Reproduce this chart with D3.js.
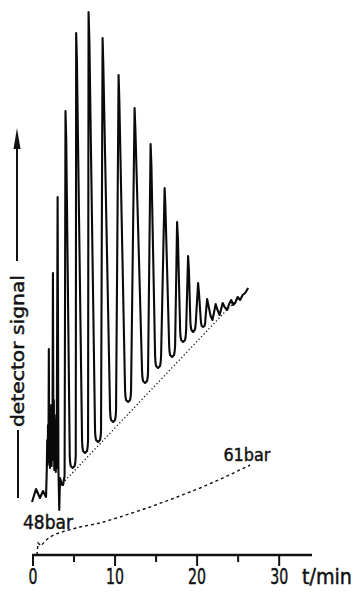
<!DOCTYPE html>
<html>
<head>
<meta charset="utf-8">
<script src="https://cdn.jsdelivr.net/npm/d3@7"></script>
<style>
  html, body { margin: 0; padding: 0; background: #fff; }
  text { font-family: "Liberation Sans Narrow", "DejaVu Sans Condensed", "DejaVu Sans", sans-serif; fill: #111; stroke: #111; stroke-width: 0.45; }
</style>
</head>
<body>
<svg id="canvas"></svg>
<script>
const width = 357;
const height = 593;

// detector trace: [t in min, signal in arbitrary units]
const trace = [
  [-0.12, 53], [0.37, 66], [0.85, 57], [1.22, 64], [1.59, 58],
  [1.68, 85], [1.73, 115], [1.78, 90], [1.83, 130], [1.88, 93],
  [1.93, 206], [1.98, 97], [2.02, 140], [2.07, 87], [2.12, 135],
  [2.17, 100], [2.22, 150], [2.27, 89], [2.32, 130], [2.37, 105],
  [2.43, 282], [2.49, 95], [2.54, 155], [2.59, 85], [2.63, 140],
  [2.68, 93], [2.73, 135], [2.78, 83], [2.83, 125], [2.88, 87],
  [3.00, 358], [3.10, 85], [3.20, 45], [3.29, 77],
  [3.44, 73], [3.55, 70], [3.66, 70], [3.85, 79],
  [3.96, 444], [4.05, 415],
  [4.48, 99], [4.52, 93], [4.60, 89], [4.84, 87], [5.08, 89], [5.16, 93], [5.21, 99],
  [5.26, 522], [5.35, 495],
  [5.98, 114], [6.02, 108], [6.10, 104], [6.34, 102], [6.58, 104], [6.66, 108], [6.71, 114],
  [6.77, 543], [6.87, 515],
  [7.56, 125], [7.60, 119], [7.68, 115], [7.93, 113], [8.17, 115], [8.25, 119], [8.29, 125],
  [8.48, 517], [8.57, 490],
  [9.39, 145], [9.43, 139], [9.51, 135], [9.76, 133], [10.00, 135], [10.08, 139], [10.12, 145],
  [10.43, 480], [10.52, 455],
  [11.22, 165], [11.26, 159], [11.34, 155], [11.59, 153], [11.83, 155], [11.91, 159], [11.95, 165],
  [12.38, 447], [12.48, 425],
  [13.29, 184], [13.33, 178], [13.41, 174], [13.66, 172], [13.90, 174], [13.98, 178], [14.02, 184],
  [14.33, 411], [14.43, 390],
  [14.88, 199], [14.92, 193], [15.00, 189], [15.24, 187], [15.48, 189], [15.56, 193], [15.61, 199],
  [16.04, 367], [16.13, 350],
  [16.59, 210], [16.63, 204], [16.71, 200], [16.95, 198], [17.19, 200], [17.27, 204], [17.32, 210],
  [17.56, 333], [17.66, 317],
  [17.93, 225], [17.97, 219], [18.05, 215], [18.29, 213], [18.53, 215], [18.61, 219], [18.66, 225],
  [18.90, 299], [19.00, 285],
  [19.18, 233], [19.23, 228], [19.31, 225], [19.51, 223], [19.71, 225], [19.79, 228], [19.84, 233],
  [20.12, 272], [20.22, 263],
  [20.43, 237], [20.48, 232], [20.56, 229], [20.73, 228], [20.90, 229], [20.98, 232], [21.04, 239],
  [21.22, 256], [21.34, 251], [21.65, 239], [21.87, 235], [22.07, 243],
  [22.26, 251], [22.44, 246], [22.74, 240], [22.93, 246], [23.11, 252],
  [23.35, 248], [23.66, 245], [23.90, 251], [24.15, 255], [24.39, 250],
  [24.63, 252], [24.94, 258], [25.24, 255], [25.55, 260], [25.85, 262],
  [26.22, 267]
];

// drawn baseline under the peaks
const baseline = [[3.29, 69], [25.0, 257]];

// pressure programme, 48 bar -> 61 bar
const pressure = [
  [0.49, 0], [0.61, 12], [0.98, 9], [1.46, 14], [2.07, 18],
  [2.80, 21], [3.90, 24], [5.73, 28], [8.17, 32], [10.61, 38],
  [14.27, 48], [17.56, 58], [20.37, 67], [23.41, 78], [26.46, 90]
];

const majorTicks = [0, 10, 20, 30];
const minorTicks = [5, 15, 25];
const pressureLabels = [
  { text: '48bar', t: -1.22, s: 26, len: 50, size: 20 },
  { text: '61bar', t: 23.2, s: 94, len: 47, size: 18 }
];

let canvas = d3.select('#canvas')
  .attr('width', width)
  .attr('height', height);

canvas.append('rect')
  .attr('width', width)
  .attr('height', height)
  .attr('fill', '#fff');

let xScale = d3.scaleLinear().domain([0, 34]).range([33, 312]);
let yScale = d3.scaleLinear().domain([0, 543]).range([555, 12]);

let drawAxes = () => {
  // time axis
  canvas.append('line')
    .attr('x1', xScale(0) - 1).attr('x2', xScale(34))
    .attr('y1', yScale(0)).attr('y2', yScale(0))
    .attr('stroke', '#111').attr('stroke-width', 2.4);

  canvas.selectAll('.major')
    .data(majorTicks)
    .enter()
    .append('line')
    .attr('class', 'major')
    .attr('x1', d => xScale(d)).attr('x2', d => xScale(d))
    .attr('y1', yScale(0)).attr('y2', yScale(0) + 11)
    .attr('stroke', '#111').attr('stroke-width', 2);

  canvas.selectAll('.minor')
    .data(minorTicks)
    .enter()
    .append('line')
    .attr('class', 'minor')
    .attr('x1', d => xScale(d)).attr('x2', d => xScale(d))
    .attr('y1', yScale(0)).attr('y2', yScale(0) + 7)
    .attr('stroke', '#111').attr('stroke-width', 2);

  canvas.selectAll('.ticklabel')
    .data(majorTicks)
    .enter()
    .append('text')
    .attr('class', 'ticklabel')
    .attr('x', d => xScale(d))
    .attr('y', 584)
    .attr('text-anchor', 'middle')
    .attr('font-size', 22)
    .attr('textLength', d => String(d).length * 9)
    .attr('lengthAdjust', 'spacingAndGlyphs')
    .text(d => d);

  canvas.append('text')
    .attr('x', 302)
    .attr('y', 584)
    .attr('font-size', 22)
    .attr('textLength', 50)
    .attr('lengthAdjust', 'spacingAndGlyphs')
    .text('t/min');

  // signal arrow
  canvas.append('line')
    .attr('x1', 17).attr('x2', 17)
    .attr('y1', 146).attr('y2', 261)
    .attr('stroke', '#111').attr('stroke-width', 2);
  canvas.append('path')
    .attr('d', 'M17,128 L13.5,149 L20.5,149 Z')
    .attr('fill', '#111');

  canvas.append('line')
    .attr('x1', 18).attr('x2', 18)
    .attr('y1', 430).attr('y2', 498)
    .attr('stroke', '#111').attr('stroke-width', 2);

  canvas.append('text')
    .attr('transform', 'translate(24,351) rotate(-90)')
    .attr('text-anchor', 'middle')
    .attr('font-size', 18)
    .attr('textLength', 152)
    .attr('lengthAdjust', 'spacingAndGlyphs')
    .text('detector signal');
}

let drawCurves = () => {
  let line = d3.line()
    .x(d => xScale(d[0]))
    .y(d => yScale(d[1]));

  canvas.append('path')
    .datum(baseline)
    .attr('d', line)
    .attr('fill', 'none')
    .attr('stroke', '#111')
    .attr('stroke-width', 1.3)
    .attr('stroke-dasharray', '1.2,2.4');

  canvas.append('path')
    .datum(pressure)
    .attr('d', line)
    .attr('fill', 'none')
    .attr('stroke', '#111')
    .attr('stroke-width', 1.4)
    .attr('stroke-dasharray', '3,3');

  canvas.append('path')
    .datum(trace)
    .attr('d', line)
    .attr('fill', 'none')
    .attr('stroke', '#0a0a0a')
    .attr('stroke-width', 2.1)
    .attr('stroke-linejoin', 'round');

  canvas.selectAll('.plabel')
    .data(pressureLabels)
    .enter()
    .append('text')
    .attr('class', 'plabel')
    .attr('x', d => xScale(d.t))
    .attr('y', d => yScale(d.s))
    .attr('font-size', d => d.size)
    .attr('textLength', d => d.len)
    .attr('lengthAdjust', 'spacingAndGlyphs')
    .text(d => d.text);
}

drawCurves();
drawAxes();
</script>
</body>
</html>
